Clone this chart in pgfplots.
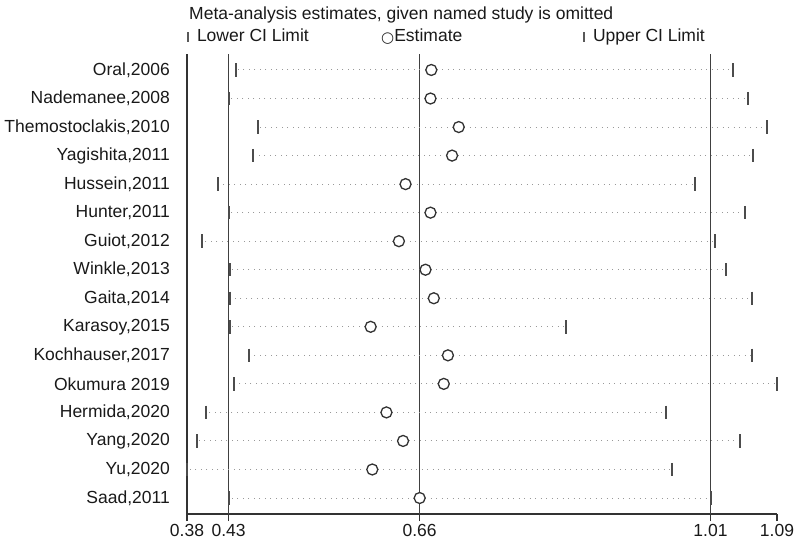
\documentclass[border=0pt]{standalone}
\usepackage{pgfplots}
\pgfplotsset{compat=1.18}
\usepackage{pgfplotstable}
\usepackage{graphicx}
\usepackage{fontspec}
\setmainfont{Liberation Sans}
\newfontfamily\dejavu{DejaVu Sans}

% y = row position (16 = top), lo = lower CI, est = estimate, hi = upper CI
\pgfplotstableread{
y  lo    est   hi
16 0.439 0.674 1.037
15 0.430 0.673 1.055
14 0.465 0.707 1.078
13 0.460 0.699 1.061
12 0.417 0.643 0.991
11 0.430 0.673 1.052
10 0.398 0.635 1.015
9  0.432 0.667 1.029
8  0.432 0.677 1.060
7  0.432 0.601 0.836
6  0.455 0.694 1.060
5  0.437 0.689 1.090
4  0.403 0.620 0.956
3  0.392 0.640 1.046
2  0.380 0.603 0.964
1  0.430 0.660 1.010
}\sens

\begin{document}
\begin{tikzpicture}[font=\fontsize{17.5}{21}\selectfont]
\useasboundingbox (0,0) rectangle (800pt,546pt);
\node[anchor=base west, inner sep=0pt, text=black!90] at (189pt,526pt) {Meta-analysis estimates, given named study is omitted};
\node[anchor=base west, inner sep=0pt, text=black!90] at (187pt,504pt) {\textcolor{black!65}{\rule{1.8pt}{10pt}}\hspace{8pt}Lower CI Limit};
\node[anchor=base west, inner sep=0pt, text=black!90] at (381pt,504pt) {\raisebox{-0.5pt}{\dejavu\fontsize{15}{15}\selectfont\textcolor{black!85}{○}}Estimate};
\node[anchor=base west, inner sep=0pt, text=black!90] at (583pt,504pt) {\textcolor{black!65}{\rule{1.8pt}{10pt}}\hspace{8pt}Upper CI Limit};

\begin{axis}[
  at={(187pt,32pt)}, anchor=south west,
  scale only axis, width=590pt, height=460pt,
  xmin=0.38, xmax=1.09, ymin=0.44, ymax=16.56,
  clip=false,
  axis x line*=bottom, axis y line*=left,
  axis line style={black!80, line width=1.1pt},
  xtick={0.38,0.43,0.66,1.01,1.09},
  xticklabels={0.38,0.43,0.66,1.01,1.09},
  ytick={1,...,16},
  yticklabels={{Saad,2011},{Yu,2020},{Yang,2020},{Hermida,2020},{Okumura 2019},{Kochhauser,2017},{Karasoy,2015},{Gaita,2014},{Winkle,2013},{Guiot,2012},{Hunter,2011},{Hussein,2011},{Yagishita,2011},{Themostoclakis,2010},{Nademanee,2008},{Oral,2006}},
  tick align=outside, major tick length=7pt,
  xtick style={black!80, line width=1.1pt},
  ytick style={draw=none},
  tick label style={font=\fontsize{17.5}{21}\selectfont, text=black!90},
  yticklabel style={anchor=east, inner sep=0pt, xshift=-10pt},
  xticklabel style={anchor=north, inner sep=0pt, yshift=-3pt},
]
\addplot[black!75, line width=1.6pt] coordinates {(0.43,0.44) (0.43,16.56)};
\addplot[black!75, line width=1.6pt] coordinates {(0.66,0.44) (0.66,16.56)};
\addplot[black!75, line width=1.6pt] coordinates {(1.01,0.44) (1.01,16.56)};
\addplot[only marks, mark=none,
  error bars/.cd, x dir=both, x explicit,
  error mark options={mark size=0pt},
  error bar style={draw=black!40, line width=1pt, dash pattern=on 1pt off 4.5pt}]
  table[x=est, y=y, x error plus expr=\thisrow{hi}-\thisrow{est}, x error minus expr=\thisrow{est}-\thisrow{lo}] {\sens};
\addplot[only marks, mark=|, mark size=6.7pt, mark options={draw=black!70, line width=2pt}] table[x=lo, y=y] {\sens};
\addplot[only marks, mark=|, mark size=6.7pt, mark options={draw=black!70, line width=2pt}] table[x=hi, y=y] {\sens};
\addplot[only marks, mark=*, mark size=5.5pt, mark options={draw=black!80, fill=white, line width=1.3pt}] table[x=est, y=y] {\sens};
\end{axis}
\end{tikzpicture}
\end{document}
